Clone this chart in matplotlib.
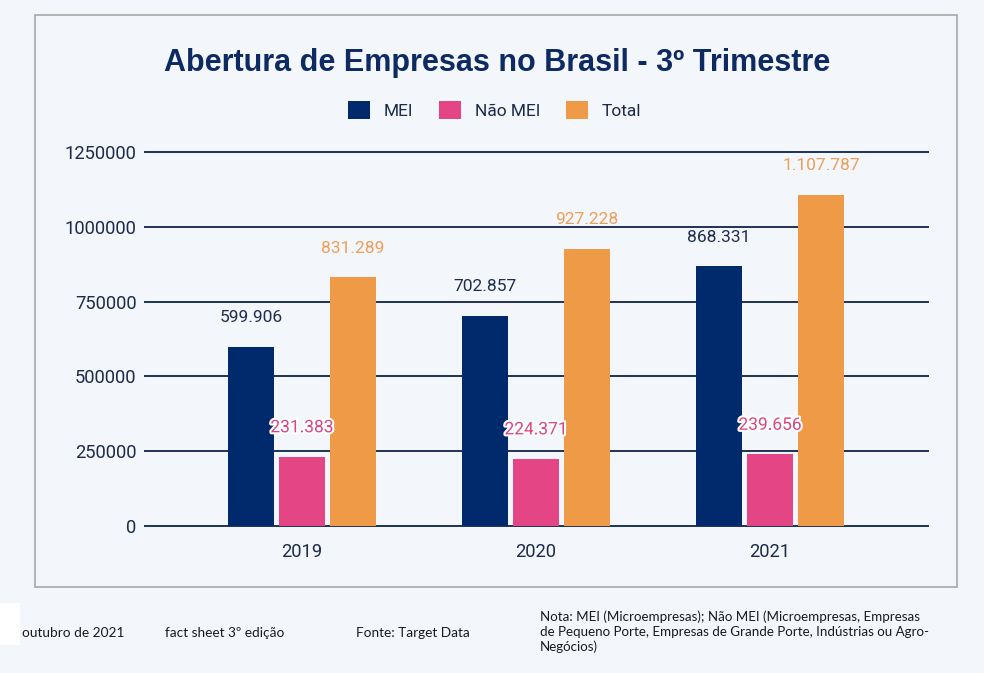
import matplotlib.pyplot as plt
import matplotlib.patheffects as pe
from matplotlib.patches import Rectangle
import numpy as np

# data
anos = ['2019', '2020', '2021']
mei = [599906, 702857, 868331]
nao_mei = [231383, 224371, 239656]
total = [831289, 927228, 1107787]
rotulos_mei = ['599.906', '702.857', '868.331']
rotulos_nao_mei = ['231.383', '224.371', '239.656']
rotulos_total = ['831.289', '927.228', '1.107.787']

bg = '#f3f6fb'
navy = '#1c2b4a'
cores = ['#002a6b', '#e34585', '#ef9a47']
cor_rot = ['#1f2d4f', '#d9467f', '#eca05a']

plt.rcParams['font.family'] = ['Roboto', 'DejaVu Sans']

fig = plt.figure(figsize=(9.84, 6.73), dpi=100, facecolor=bg)
W, H = 984, 673

# moldura
fig.patches.append(Rectangle((35 / W, 1 - 587 / H), 922 / W, 572 / H, transform=fig.transFigure,
                             facecolor='none', edgecolor='#a8a8a8', lw=1.2, zorder=-1))
fig.patches.append(Rectangle((0, 1 - 645 / H), 20 / W, 42 / H, transform=fig.transFigure,
                             facecolor='white', edgecolor='none', zorder=-1))

ax = fig.add_axes([145 / W, 1 - 526 / H, (928 - 145) / W, (526 - 152) / H])
ax.set_facecolor('none')

x = np.arange(len(anos))
w = 0.197
passo = 0.218
series = [(mei, rotulos_mei, 'MEI'), (nao_mei, rotulos_nao_mei, 'Não MEI'), (total, rotulos_total, 'Total')]
for k, (vals, rots, nome) in enumerate(series):
    xs = x + (k - 1) * passo
    ax.bar(xs, vals, width=w, color=cores[k], label=nome, zorder=3)
    for xi, v, r in zip(xs, vals, rots):
        t = ax.annotate(r, (xi, v), xytext=(0, 29), textcoords='offset pixels',
                        ha='center', va='center', fontsize=12.5, color=cor_rot[k], zorder=4)
        if k == 1:
            t.set_path_effects([pe.withStroke(linewidth=3, foreground='white')])

ax.set_xlim(-0.671, 2.675)
ax.set_ylim(0, 1250000)
ax.set_yticks([0, 250000, 500000, 750000, 1000000, 1250000])
ax.set_yticklabels(['0', '250000', '500000', '750000', '1000000', '1250000'])
ax.set_xticks(x)
ax.set_xticklabels(anos)
ax.grid(axis='y', color='#1f3158', lw=1.4, zorder=1)
ax.set_axisbelow(True)
ax.tick_params(axis='both', length=0, labelsize=13.2, labelcolor=navy)
ax.tick_params(axis='y', pad=6)
ax.tick_params(axis='x', pad=12)
for s in ax.spines.values():
    s.set_visible(False)
for gl in ax.get_ygridlines():
    gl.set_clip_on(False)

fig.text(0.505, 1 - 63 / H, 'Abertura de Empresas no Brasil - 3º Trimestre', ha='center', va='center',
         fontsize=22, fontweight='bold', color='#0d2a63', family=['Liberation Sans', 'DejaVu Sans'])

fig.legend(loc='center', bbox_to_anchor=(0.503, 1 - 110 / H), ncol=3, frameon=False,
           fontsize=12.5, handlelength=1.25, handleheight=1.25, columnspacing=1.5, handletextpad=0.8,
           labelcolor=navy)

# rodape
fonte = ['Lato', 'DejaVu Sans']
yr = 1 - 633 / H
fig.text(22 / W, yr, 'outubro de 2021', fontsize=9.8, va='center', color='#1a1a1a', family=fonte)
fig.text(165 / W, yr, 'fact sheet 3º edição', fontsize=9.8, va='center', color='#1a1a1a', family=fonte)
fig.text(356 / W, yr, 'Fonte: Target Data', fontsize=9.8, va='center', color='#1a1a1a', family=fonte)
fig.text(540 / W, 1 - 632 / H,
         'Nota: MEI (Microempresas); Não MEI (Microempresas, Empresas\n'
         'de Pequeno Porte, Empresas de Grande Porte, Indústrias ou Agro-\nNegócios)',
         fontsize=9.6, va='center', color='#1a1a1a', family=fonte, linespacing=1.25)

fig.savefig('out.png', dpi=100, facecolor=bg)
